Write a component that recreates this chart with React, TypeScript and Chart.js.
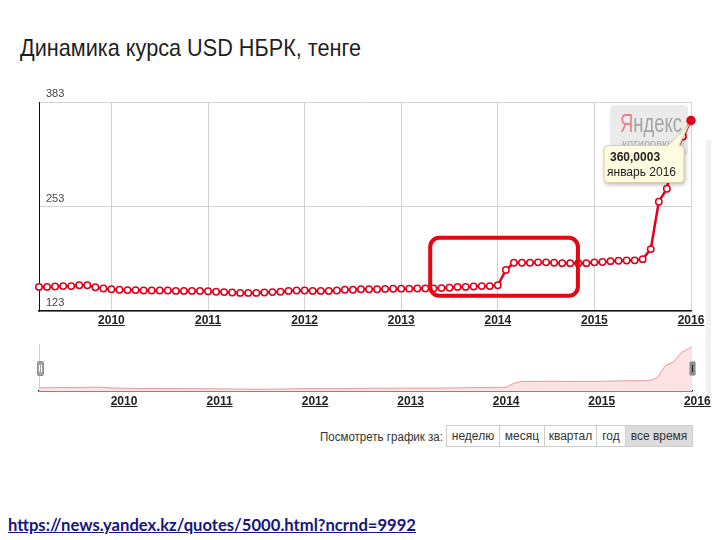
import React, { useEffect, useLayoutEffect, useRef } from 'react';
import { Chart, registerables } from 'chart.js';

Chart.register(...registerables);

// ---------- data ----------
const startYear = 2009;
const startMonth = 4; // April 2009
const values2009 = [153, 153, 153.5, 154, 154, 155, 155, 152.5, 151];
const values2010 = [150, 149.5, 149, 149, 148.5, 148.5, 148.5, 148.5, 148, 148, 148, 148];
const values2011 = [147.5, 147, 146.5, 146, 145.5, 145.5, 145.5, 146, 146.5, 147, 148, 148.5];
const values2012 = [148.5, 148, 148, 148, 148.5, 149.5, 149.5, 150, 150, 150, 150.5, 150.7];
const values2013 = [150.8, 150.8, 151, 151, 151, 151.5, 152, 153, 153, 153.5, 154, 154];
const values2014 = [155, 174, 183, 183, 183, 183.5, 183.5, 183, 182.5, 182.5, 182.5, 182.5];
const values2015 = [183.5, 184, 185, 185.5, 185.8, 186, 187.5, 200, 259, 275, 320, 340];
const values2016 = [360.0003];
const usdKzt = [
  ...values2009, ...values2010, ...values2011, ...values2012,
  ...values2013, ...values2014, ...values2015, ...values2016,
];
// navigator starts a little earlier (Feb–Mar 2009)
const navStartMonth = 2;
const navLeadValues = [152, 152.5];

const monthNames = ['январь', 'февраль', 'март', 'апрель', 'май', 'июнь', 'июль', 'август', 'сентябрь', 'октябрь', 'ноябрь', 'декабрь'];
const yTicks = [123, 253, 383];
const yearTicks = [2010, 2011, 2012, 2013, 2014, 2015, 2016];
const navRange = { xMin: 2009.11, xMax: 2015.945, yMin: 137, yMax: 366 };
// highlighted period (month index range and value range)
const highlight = { fromIndex: 48.6, toIndex: 66.95, low: 142, high: 214 };

const titleText = 'Динамика курса USD НБРК, тенге';
const periodPrompt = 'Посмотреть график за:';
const periodButtons = ['неделю', 'месяц', 'квартал', 'год', 'все время'];
const sourceUrl = 'https://news.yandex.kz/quotes/5000.html?ncrnd=9992';

// ---------- helpers ----------
const FONT = "'Liberation Sans', Arial, sans-serif";
const RED = '#e2001a';
const GRID = '#d2d2d2';

const monthInfo = usdKzt.map((_, i) => {
  const m = startMonth - 1 + i;
  return { year: startYear + Math.floor(m / 12), month: m % 12 };
});
const labels = monthInfo.map((d) => `${monthNames[d.month]} ${d.year}`);
const isJan = (i: number) => monthInfo[i] && monthInfo[i].month === 0;

const underlinePlugin = (offset: number, padding: number) => ({
  id: 'underlineTicks',
  afterDraw(chart: any) {
    const scale = chart.scales.x;
    const ctx = chart.ctx;
    ctx.save();
    ctx.font = `bold 12px ${FONT}`;
    ctx.fillStyle = '#222';
    scale.ticks.forEach((t: any, i: number) => {
      const lab = t.label;
      if (!lab) return;
      const w = ctx.measureText(String(lab)).width;
      const x = scale.getPixelForTick(i);
      const y = Math.round(scale.top + padding + 7.2 + offset);
      ctx.fillRect(x - w / 2, y, w, 1);
    });
    ctx.restore();
  },
});

const watermarkPlugin = {
  id: 'yandexMark',
  beforeDatasetsDraw(chart: any) {
    const { ctx, chartArea: a } = chart;
    const x = a.right - 81;
    const y = a.top + 3;
    ctx.save();
    ctx.fillStyle = '#ebebeb';
    ctx.beginPath();
    ctx.roundRect(x, y, 78, 50, 4);
    ctx.fill();
    ctx.font = `26px ${FONT}`;
    const full = ctx.measureText('Яндекс').width;
    const s = 62 / full;
    const ya = ctx.measureText('Я').width;
    ctx.translate(x + 10, y + 27);
    ctx.scale(s, 1);
    ctx.fillStyle = '#e58585';
    ctx.fillText('Я', 0, 0);
    ctx.fillStyle = '#a5a5a5';
    ctx.fillText('ндекс', ya, 0);
    ctx.restore();
    ctx.save();
    ctx.font = `11px ${FONT}`;
    ctx.fillStyle = '#a8a8a8';
    ctx.fillText('котировки', x + 12, y + 42);
    ctx.restore();
  },
};

const overlayPlugin = {
  id: 'overlay',
  afterDatasetsDraw(chart: any) {
    const { ctx } = chart;
    const xs = chart.scales.x;
    const ys = chart.scales.y;
    // highlight frame
    const l = xs.getPixelForValue(highlight.fromIndex);
    const r = xs.getPixelForValue(highlight.toIndex);
    const t = ys.getPixelForValue(highlight.high);
    const b = ys.getPixelForValue(highlight.low);
    ctx.save();
    ctx.strokeStyle = '#e30613';
    ctx.lineWidth = 4;
    ctx.beginPath();
    ctx.roundRect(l, t, r - l, b - t, 9);
    ctx.stroke();
    ctx.restore();

    // tooltip for the last point
    const meta = chart.getDatasetMeta(0);
    const idx = meta.data.length - 1;
    const el = meta.data[idx];
    const px = el.x;
    const py = el.y;
    const bw = 80;
    const bh = 37;
    const right = px - 7;
    const top = py + 25;
    const left = right - bw;
    const rad = 4;
    ctx.save();
    ctx.beginPath();
    ctx.moveTo(left + rad, top);
    ctx.lineTo(right - 16, top);
    ctx.lineTo(px - 2, py + 4);
    ctx.lineTo(right - 5, top);
    ctx.arcTo(right, top, right, top + rad, rad);
    ctx.lineTo(right, top + bh - rad);
    ctx.arcTo(right, top + bh, right - rad, top + bh, rad);
    ctx.lineTo(left + rad, top + bh);
    ctx.arcTo(left, top + bh, left, top + bh - rad, rad);
    ctx.lineTo(left, top + rad);
    ctx.arcTo(left, top, left + rad, top, rad);
    ctx.closePath();
    ctx.shadowColor = 'rgba(0,0,0,0.3)';
    ctx.shadowBlur = 4;
    ctx.shadowOffsetX = 1;
    ctx.shadowOffsetY = 2;
    ctx.fillStyle = '#fffbe1';
    ctx.fill();
    ctx.shadowColor = 'transparent';
    ctx.strokeStyle = '#d9cf9f';
    ctx.lineWidth = 1;
    ctx.stroke();
    ctx.fillStyle = '#222';
    ctx.textBaseline = 'middle';
    ctx.font = `bold 12px ${FONT}`;
    ctx.fillText(String(usdKzt[idx]).replace('.', ','), left + 6, top + 12.5);
    ctx.font = `12px ${FONT}`;
    ctx.fillText(labels[idx], left + 3, top + 27.5);
    ctx.restore();
  },
};

function FitText({ text, width, style }: { text: string; width: number; style: any }) {
  const ref = useRef<HTMLSpanElement>(null);
  useLayoutEffect(() => {
    const el = ref.current;
    if (!el) return;
    el.style.transform = 'none';
    const w = el.getBoundingClientRect().width;
    if (w > 0) el.style.transform = `scaleX(${width / w})`;
  }, [text, width]);
  return (
    <span ref={ref} style={{ display: 'inline-block', whiteSpace: 'nowrap', transformOrigin: 'left center', ...style }}>
      {text}
    </span>
  );
}

export default function App() {
  const mainRef = useRef<HTMLCanvasElement>(null);
  const navRef = useRef<HTMLCanvasElement>(null);

  useEffect(() => {
    const last = usdKzt.length - 1;
    const main = new Chart(mainRef.current as HTMLCanvasElement, {
      type: 'line',
      data: {
        labels,
        datasets: [
          {
            data: usdKzt,
            borderColor: RED,
            borderWidth: 2.5,
            tension: 0,
            fill: false,
            pointRadius: (c: any) => (c.dataIndex === last ? 4 : 3.2),
            pointBackgroundColor: (c: any) => (c.dataIndex === last ? RED : '#ffffff'),
            pointBorderColor: RED,
            pointBorderWidth: 1.5,
          },
        ],
      },
      options: {
        animation: false,
        responsive: false,
        devicePixelRatio: 1,
        events: [],
        layout: { padding: { top: 17, right: 29, left: 0, bottom: 0 } },
        plugins: { legend: { display: false }, tooltip: { enabled: false } },
        scales: {
          x: {
            type: 'category',
            grid: {
              color: (c: any) => (isJan(c.index) ? GRID : 'rgba(0,0,0,0)'),
              drawTicks: false,
              lineWidth: 1,
            },
            border: { color: '#111', width: 1.5 },
            ticks: {
              autoSkip: false,
              maxRotation: 0,
              padding: 2,
              color: '#222',
              font: { family: FONT, size: 12, weight: 'bold' },
              callback: (_v: any, i: number) => (isJan(i) ? String(monthInfo[i].year) : ''),
            },
            afterFit: (s: any) => {
              s.height = 24;
            },
          },
          y: {
            min: yTicks[0],
            max: yTicks[yTicks.length - 1],
            afterBuildTicks: (s: any) => {
              s.ticks = yTicks.map((v) => ({ value: v }));
            },
            grid: { color: GRID, drawTicks: false },
            border: { color: '#111', width: 1 },
            ticks: {
              mirror: true,
              padding: 7,
              labelOffset: -8,
              color: '#444',
              font: { family: FONT, size: 11 },
            },
            afterFit: (s: any) => {
              s.width = 39;
            },
          },
        },
      } as any,
      plugins: [watermarkPlugin, overlayPlugin, underlinePlugin(5, 2)],
    });

    const navData = [
      ...navLeadValues.map((v, i) => ({ x: startYear + (navStartMonth - 1 + i) / 12, y: v })),
      ...usdKzt.map((v, i) => ({ x: startYear + (startMonth - 1 + i) / 12, y: v })),
    ];
    const nav = new Chart(navRef.current as HTMLCanvasElement, {
      type: 'line',
      data: {
        datasets: [
          {
            data: navData,
            borderColor: '#e59a9a',
            borderWidth: 1,
            backgroundColor: '#fde3e3',
            fill: 'start',
            pointRadius: 0,
            tension: 0,
          },
        ],
      },
      options: {
        animation: false,
        responsive: false,
        devicePixelRatio: 1,
        events: [],
        layout: { padding: { top: 8, right: 28, left: 39, bottom: 0 } },
        plugins: { legend: { display: false }, tooltip: { enabled: false } },
        scales: {
          x: {
            type: 'linear',
            min: navRange.xMin,
            max: navRange.xMax,
            afterBuildTicks: (s: any) => {
              s.ticks = yearTicks.map((v) => ({ value: v }));
            },
            grid: { display: false, drawTicks: false },
            border: { color: '#111', width: 1.5 },
            ticks: {
              padding: 3,
              color: '#222',
              font: { family: FONT, size: 12, weight: 'bold' },
              callback: (v: any) => String(v),
            },
            afterFit: (s: any) => {
              s.height = 19;
            },
          },
          y: { display: false, min: navRange.yMin, max: navRange.yMax },
        },
      } as any,
      plugins: [underlinePlugin(5, 3)],
    });

    return () => {
      main.destroy();
      nav.destroy();
    };
  }, []);

  const btnLefts = [446, 499, 544, 596, 625, 692];

  return (
    <div style={{ position: 'fixed', left: 0, top: 0, width: 720, height: 540, background: '#fff', overflow: 'hidden', fontFamily: FONT }}>
      <div style={{ position: 'absolute', left: 20, top: 36, lineHeight: '24px' }}>
        <FitText text={titleText} width={341} style={{ fontSize: 24, color: '#1e1e1e', fontFamily: FONT }} />
      </div>

      <canvas ref={mainRef} width={720} height={250} style={{ position: 'absolute', left: 0, top: 85 }} />

      {/* faint right border of the widget */}
      <div style={{ position: 'absolute', left: 706, top: 140, width: 5, height: 255, background: '#f1f1f1' }} />

      <canvas ref={navRef} width={720} height={75} style={{ position: 'absolute', left: 0, top: 335 }} />

      {/* navigator handles */}
      <div style={{ position: 'absolute', left: 39, top: 344, width: 1, height: 46, background: '#d0d0d0' }} />
      <div style={{ position: 'absolute', left: 37, top: 361, width: 5, height: 13, background: '#a3a3a3', border: '1px solid #8c8c8c', borderRadius: 2 }}>
        <div style={{ position: 'absolute', left: 1, top: 3, width: 1, height: 7, background: '#fff' }} />
        <div style={{ position: 'absolute', left: 3, top: 3, width: 1, height: 7, background: '#fff' }} />
      </div>
      <div style={{ position: 'absolute', left: 689, top: 361, width: 5, height: 13, background: '#8a8a8a', border: '1px solid #bbb', borderRadius: 2 }}>
        <div style={{ position: 'absolute', left: 2, top: 3, width: 1, height: 7, background: '#222' }} />
      </div>

      {/* period selector */}
      <div style={{ position: 'absolute', left: 320, top: 429, lineHeight: '14px' }}>
        <FitText text={periodPrompt} width={123} style={{ fontSize: 12, color: '#333', fontFamily: FONT }} />
      </div>
      {periodButtons.map((b, i) => (
        <div
          key={b}
          style={{
            position: 'absolute',
            left: btnLefts[i],
            top: 425,
            width: btnLefts[i + 1] - btnLefts[i] - 1,
            height: 20,
            border: '1px solid #cdcdcd',
            background: i === periodButtons.length - 1 ? '#dcdcdc' : '#fff',
            fontSize: 12,
            lineHeight: '20px',
            textAlign: 'center',
            color: '#333',
            boxSizing: 'content-box',
          }}
        >
          {b}
        </div>
      ))}

      <div style={{ position: 'absolute', left: 8, top: 516, lineHeight: '17px' }}>
        <FitText
          text={sourceUrl}
          width={408}
          style={{ fontSize: 17, fontFamily: "Lato, 'Open Sans', sans-serif", fontWeight: 700, color: '#16167c', textDecoration: 'underline' }}
        />
      </div>
    </div>
  );
}
